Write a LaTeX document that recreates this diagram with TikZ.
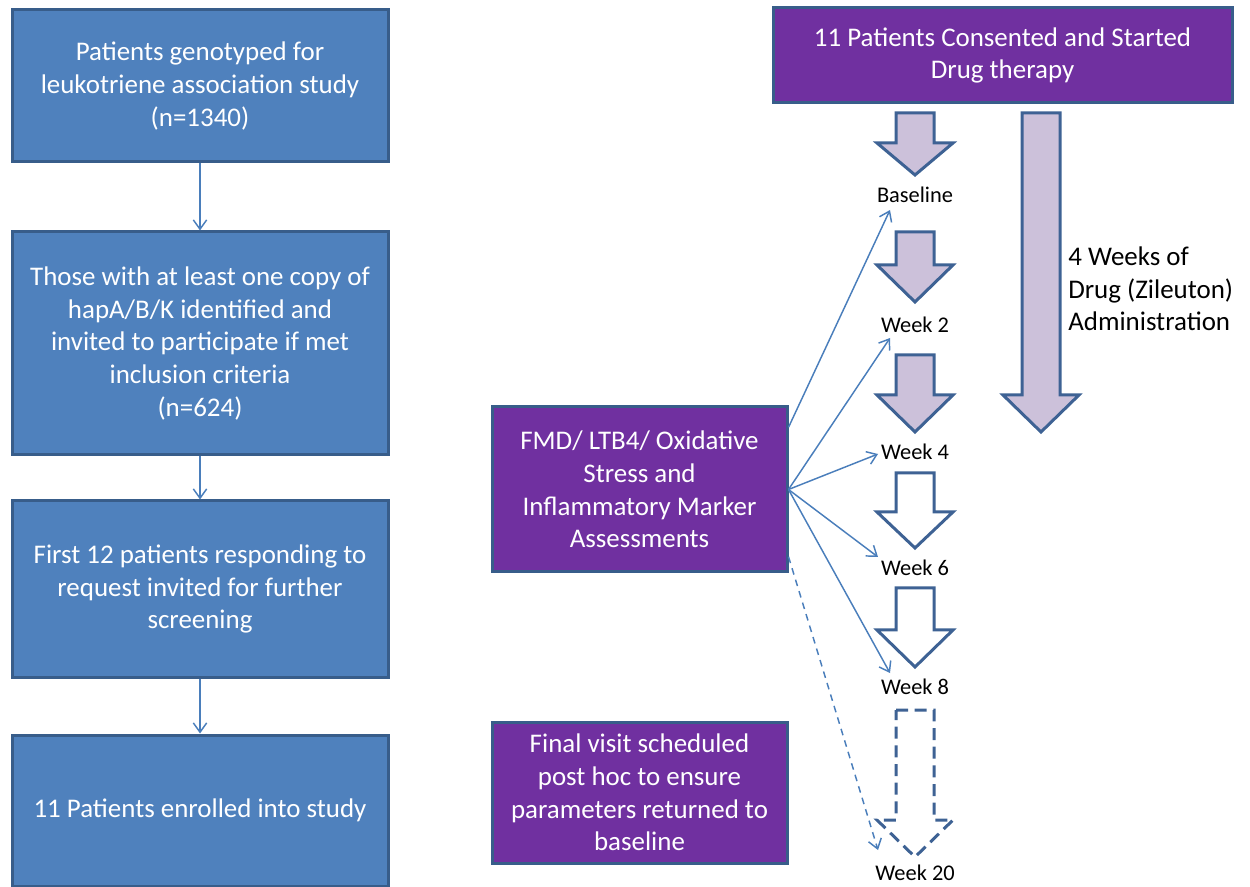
\documentclass[tikz,border=0pt]{standalone}
\usepackage{fontspec}
\setmainfont{Carlito}
\usetikzlibrary{arrows.meta,calc}
\definecolor{boxblue}{HTML}{4F81BD}
\definecolor{boxedge}{HTML}{385D8A}
\definecolor{purp}{HTML}{7030A0}
\definecolor{lav}{HTML}{CCC1DA}
\definecolor{arredge}{HTML}{3E6294}
\definecolor{connc}{HTML}{4A7EBB}
\newcommand{\bigtxt}{\fontsize{20.2pt}{24.4pt}\selectfont}
\newcommand{\smalltxt}{\fontsize{16.8pt}{20pt}\selectfont}
\newcommand{\blkarrow}[5]{%
  \draw[#1] (#2-19,#3) -- (#2+19,#3) -- (#2+19,#4) -- (#2+38,#4) -- (#2,#5) -- (#2-38,#4) -- (#2-19,#4) -- cycle;}
\begin{document}
\begin{tikzpicture}[x=0.75pt,y=-0.75pt,
  bluebox/.style={draw=boxedge, line width=2.25pt, fill=boxblue, text=white, align=center, font=\bigtxt, minimum width=282pt, inner sep=0pt},
  purpbox/.style={draw=boxedge, line width=2.25pt, fill=purp, text=white, align=center, font=\bigtxt, inner sep=0pt},
  lbl/.style={font=\smalltxt, text=black, inner sep=0pt},
  conn/.style={draw=connc, line width=1.1pt, -{Straight Barb[length=7pt,width=10pt]}},
  blockfill/.style={draw=arredge, line width=2.25pt, fill=lav, line join=miter},
  blockopen/.style={draw=arredge, line width=2.25pt, fill=white, line join=miter},
  blockdash/.style={draw=arredge, line width=2.25pt, fill=white, line join=miter, dash pattern=on 9pt off 5pt}]
\useasboundingbox (0,0) rectangle (1250,887);

% left column
\node[bluebox, minimum height=114pt] (b1) at (200,86) {Patients genotyped for\\leukotriene association study\\(n=1340)};
\node[bluebox, minimum height=167.25pt] (b2) at (200,343.5) {Those with at least one copy of\\hapA/B/K identified and\\invited to participate if met\\inclusion criteria\\(n=624)};
\node[bluebox, minimum height=132pt] (b3) at (200,589) {First 12 patients responding to\\request invited for further\\screening};
\node[bluebox, minimum height=113.25pt] (b4) at (200,810.5) {11 Patients enrolled into study};
\draw[conn] (b1) -- (b2);
\draw[conn] (b2) -- (b3);
\draw[conn] (b3) -- (b4);

% right top box
\node[purpbox, minimum width=344.25pt, minimum height=71.25pt] (top) at (1002.5,55.5) {11 Patients Consented and Started\\Drug therapy};

% purple boxes
\node[purpbox, minimum width=221.25pt, minimum height=123.75pt] (fmd) at (639.5,489.5) {FMD/ LTB4/ Oxidative\\Stress and\\Inflammatory Marker\\Assessments};
\node[purpbox, minimum width=221.25pt, minimum height=105.75pt] (fin) at (639.5,792.5) {Final visit scheduled\\post hoc to ensure\\parameters returned to\\baseline};

% block arrows
\blkarrow{blockfill}{915}{113}{143}{175}
\blkarrow{blockfill}{915}{232}{265}{302}
\blkarrow{blockfill}{915}{355}{395}{432}
\blkarrow{blockopen}{915}{473}{512}{548}
\blkarrow{blockopen}{915}{588}{630}{667}
\blkarrow{blockdash}{915}{710}{820}{857}
\blkarrow{blockfill}{1041}{113}{395}{432}

% week labels
\node[lbl] (wb) at (915,195) {Baseline};
\node[lbl] (w2) at (915,325) {Week 2};
\node[lbl] (w4) at (915,452) {Week 4};
\node[lbl] (w6) at (915,568) {Week 6};
\node[lbl] (w8) at (915,687) {Week 8};
\node[lbl] (w20) at (915,873) {Week 20};

\node[font=\bigtxt, align=left, anchor=west, inner sep=0pt] (adm) at (1068,289) {4 Weeks of\\Drug (Zileuton)\\Administration};

% connectors
\coordinate (tB) at (890,210);
\coordinate (t2) at (890,338);
\coordinate (t4) at (878,454);
\coordinate (t6) at (878,557);
\coordinate (t8) at (890,673);
\coordinate (t20) at (878,850);
\draw[conn] ($(fmd.north east)!0.13!(fmd.south east)$) -- (tB);
\draw[conn] (fmd.east) -- (t2);
\draw[conn] (fmd.east) -- (t4);
\draw[conn] (fmd.east) -- (t6);
\draw[conn] (fmd.east) -- (t8);
\draw[conn, dash pattern=on 5pt off 4pt] ($(fmd.north east)!0.9!(fmd.south east)$) -- (t20);
\end{tikzpicture}
\end{document}
